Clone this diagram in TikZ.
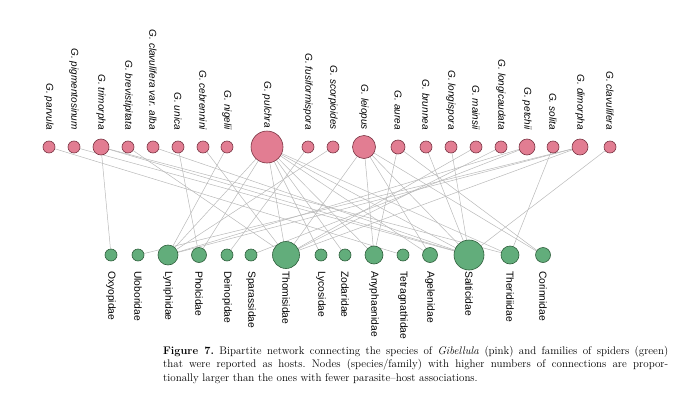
\documentclass[tikz,border=0pt]{standalone}
\usepackage{fontspec}
\newfontfamily\labfont{Liberation Sans}
\usetikzlibrary{positioning, backgrounds}

\definecolor{pinkfill}{RGB}{226,125,146}
\definecolor{pinkline}{RGB}{122,52,67}
\definecolor{greenfill}{RGB}{98,173,123}
\definecolor{greenline}{RGB}{47,95,60}
\definecolor{edgegray}{RGB}{185,185,185}

\begin{document}
\begin{tikzpicture}[
  x=1pt, y=-1pt,
  pnode/.style={circle, draw=pinkline, fill=pinkfill, line width=0.6pt, inner sep=0pt, minimum size=#1},
  pnode/.default=12pt,
  gnode/.style={circle, draw=greenline, fill=greenfill, line width=0.6pt, inner sep=0pt, minimum size=#1},
  gnode/.default=12pt,
  plab/.style={font=\labfont\itshape\fontsize{10}{12}\selectfont, rotate=-90, anchor=east, inner sep=0pt},
  glab/.style={font=\labfont\fontsize{10.3}{12}\selectfont, rotate=-90, anchor=west, inner sep=0pt},
  link/.style={draw=edgegray, line width=0.5pt},
]
\useasboundingbox (0,0) rectangle (680,407);

% --- Gibellula species (top row) ---
\def\rowP{147}
\node[pnode] (parvula) at (49,\rowP) {};
\node[pnode] (pigmentosinum) at (74,\rowP) {};
\node[pnode=16pt] (trimorpha) at (101,\rowP) {};
\node[pnode] (brevistipitata) at (128,\rowP) {};
\node[pnode] (alba) at (153,\rowP) {};
\node[pnode] (unica) at (178,\rowP) {};
\node[pnode] (cebrennini) at (203,\rowP) {};
\node[pnode] (nigelii) at (227,\rowP) {};
\node[pnode=32pt] (pulchra) at (267,\rowP) {};
\node[pnode] (fusiformispora) at (308,\rowP) {};
\node[pnode] (scorpioides) at (333,\rowP) {};
\node[pnode=23pt] (leiopus) at (364,\rowP) {};
\node[pnode=14pt] (aurea) at (398,\rowP) {};
\node[pnode] (brunnea) at (426,\rowP) {};
\node[pnode] (longispora) at (451,\rowP) {};
\node[pnode] (mainsii) at (476,\rowP) {};
\node[pnode] (longicaudata) at (501,\rowP) {};
\node[pnode=16pt] (petchii) at (527,\rowP) {};
\node[pnode] (solita) at (553,\rowP) {};
\node[pnode=16pt] (dimorpha) at (580,\rowP) {};
\node[pnode] (clavulifera) at (610,\rowP) {};

% labels, all ending at the same height
\def\labP{130}
\node[plab] (parvula-l) at (49,\labP) {G. parvula};
\node[plab] (pigmentosinum-l) at (74,\labP) {G. pigmentosinum};
\node[plab] (trimorpha-l) at (101,\labP) {G. trimorpha};
\node[plab] (brevistipitata-l) at (128,\labP) {G. brevistipitata};
\node[plab] (alba-l) at (153,\labP) {G. clavulifera var. alba};
\node[plab] (unica-l) at (178,\labP) {G. unica};
\node[plab] (cebrennini-l) at (203,\labP) {G. cebrennini};
\node[plab] (nigelii-l) at (227,\labP) {G. nigelii};
\node[plab] (pulchra-l) at (267,\labP-2) {G. pulchra};
\node[plab] (fusiformispora-l) at (308,\labP) {G. fusiformispora};
\node[plab] (scorpioides-l) at (333,\labP) {G. scorpioides};
\node[plab] (leiopus-l) at (364,\labP) {G. leiopus};
\node[plab] (aurea-l) at (398,\labP) {G. aurea};
\node[plab] (brunnea-l) at (426,\labP) {G. brunnea};
\node[plab] (longispora-l) at (451,\labP) {G. longispora};
\node[plab] (mainsii-l) at (476,\labP) {G. mainsii};
\node[plab] (longicaudata-l) at (501,\labP) {G. longicaudata};
\node[plab] (petchii-l) at (527,\labP) {G. petchii};
\node[plab] (solita-l) at (553,\labP) {G. solita};
\node[plab] (dimorpha-l) at (580,\labP) {G. dimorpha};
\node[plab] (clavulifera-l) at (610,\labP) {G. clavulifera};

% --- Spider families (bottom row) ---
\def\rowF{255}
\node[gnode] (oxyopidae) at (111,\rowF) {};
\node[gnode] (uloboridae) at (138,\rowF) {};
\node[gnode=20pt] (lyniphidae) at (168,\rowF) {};
\node[gnode=15pt] (pholcidae) at (199,\rowF) {};
\node[gnode] (deinopidae) at (227,\rowF) {};
\node[gnode] (sparassidae) at (251,\rowF) {};
\node[gnode=27pt] (thomisidae) at (286,\rowF) {};
\node[gnode] (lycosidae) at (321,\rowF) {};
\node[gnode] (zodaridae) at (345,\rowF) {};
\node[gnode=18pt] (anyphaenidae) at (374,\rowF) {};
\node[gnode] (tetragnathidae) at (403,\rowF) {};
\node[gnode=15pt] (agelenidae) at (430,\rowF) {};
\node[gnode=30pt] (salticidae) at (469,\rowF) {};
\node[gnode=18pt] (theridiidae) at (510,\rowF) {};
\node[gnode=15pt] (corinnidae) at (543,\rowF) {};

\def\labF{271}
\node[glab] (oxyopidae-l) at (111,\labF) {Oxyopidae};
\node[glab] (uloboridae-l) at (138,\labF) {Uloboridae};
\node[glab] (lyniphidae-l) at (168,\labF) {Lyniphidae};
\node[glab] (pholcidae-l) at (199,\labF) {Pholcidae};
\node[glab] (deinopidae-l) at (227,\labF) {Deinopidae};
\node[glab] (sparassidae-l) at (251,\labF) {Sparassidae};
\node[glab] (thomisidae-l) at (286,\labF) {Thomisidae};
\node[glab] (lycosidae-l) at (321,\labF) {Lycosidae};
\node[glab] (zodaridae-l) at (345,\labF) {Zodaridae};
\node[glab] (anyphaenidae-l) at (374,\labF) {Anyphaenidae};
\node[glab] (tetragnathidae-l) at (403,\labF) {Tetragnathidae};
\node[glab] (agelenidae-l) at (430,\labF) {Agelenidae};
\node[glab] (salticidae-l) at (469,\labF) {Salticidae};
\node[glab] (theridiidae-l) at (510,\labF) {Theridiidae};
\node[glab] (corinnidae-l) at (543,\labF) {Corinnidae};

% --- parasite-host links, behind the circles ---
\begin{scope}[on background layer]
\draw[link] (parvula) -- (tetragnathidae);
\draw[link] (pigmentosinum) -- (salticidae);
\draw[link] (trimorpha) -- (oxyopidae);
\draw[link] (trimorpha) -- (salticidae);
\draw[link] (trimorpha) -- (theridiidae);
\draw[link] (brevistipitata) -- (thomisidae);
\draw[link] (alba) -- (salticidae);
\draw[link] (unica) -- (pholcidae);
\draw[link] (cebrennini) -- (thomisidae);
\draw[link] (nigelii) -- (lyniphidae);
\draw[link] (pulchra) -- (lyniphidae);
\draw[link] (pulchra) -- (pholcidae);
\draw[link] (pulchra) -- (thomisidae);
\draw[link] (pulchra) -- (lycosidae);
\draw[link] (pulchra) -- (zodaridae);
\draw[link] (pulchra) -- (anyphaenidae);
\draw[link] (pulchra) -- (agelenidae);
\draw[link] (pulchra) -- (salticidae);
\draw[link] (pulchra) -- (theridiidae);
\draw[link] (fusiformispora) -- (deinopidae);
\draw[link] (scorpioides) -- (lyniphidae);
\draw[link] (leiopus) -- (thomisidae);
\draw[link] (leiopus) -- (anyphaenidae);
\draw[link] (leiopus) -- (agelenidae);
\draw[link] (leiopus) -- (salticidae);
\draw[link] (leiopus) -- (corinnidae);
\draw[link] (aurea) -- (anyphaenidae);
\draw[link] (aurea) -- (corinnidae);
\draw[link] (brunnea) -- (salticidae);
\draw[link] (longispora) -- (salticidae);
\draw[link] (mainsii) -- (thomisidae);
\draw[link] (longicaudata) -- (thomisidae);
\draw[link] (petchii) -- (lyniphidae);
\draw[link] (petchii) -- (sparassidae);
\draw[link] (solita) -- (theridiidae);
\draw[link] (dimorpha) -- (uloboridae);
\draw[link] (dimorpha) -- (thomisidae);
\draw[link] (dimorpha) -- (lyniphidae);
\draw[link] (clavulifera) -- (salticidae);
\end{scope}

% --- caption ---
\node[anchor=north west, inner sep=0pt, text width=505pt, align=justify,
  font=\fontsize{11}{13.3}\selectfont\frenchspacing] (caption) at (163,346)
  {\textbf{Figure 7.} Bipartite network connecting the species of \textit{Gibellula} (pink) and families of spiders (green) that were reported as hosts. Nodes (species/family) with higher numbers of connections are propor-\linebreak tionally larger than the ones with fewer parasite--host associations.};
\end{tikzpicture}
\end{document}
